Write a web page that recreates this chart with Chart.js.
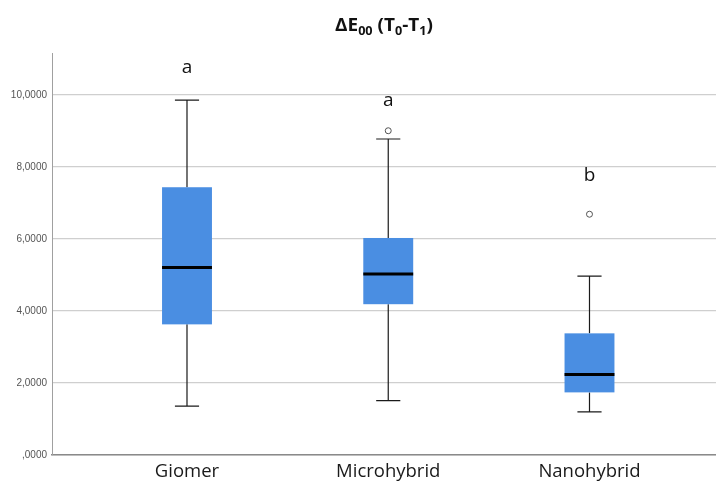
<!DOCTYPE html>
<html>
<head>
<meta charset="utf-8">
<script src="https://cdn.jsdelivr.net/npm/chart.js@4.4.1/dist/chart.umd.min.js"></script>
<style>
  html, body { margin: 0; padding: 0; background: #ffffff; overflow: hidden; }
  #wrap { width: 716px; height: 488px; position: relative; }
</style>
</head>
<body>
<div id="wrap"><canvas id="c"></canvas></div>
<script>
// ---- data ----
const categories = ["Giomer", "Microhybrid", "Nanohybrid"];
const whiskerLow = [1.36, 1.51, 1.20];
const q1 = [3.63, 4.19, 1.74];
const median = [5.21, 5.03, 2.24];
const q3 = [7.44, 6.03, 3.38];
const whiskerHigh = [9.86, 8.78, 4.97];
const outliers = [[], [9.01], [6.69]];
const groupLetters = ["a", "a", "b"];
const letterY = [10.75, 9.81, 7.73];
const yTicks = [0, 2, 4, 6, 8, 10];
const yTickLabels = [",0000", "2,0000", "4,0000", "6,0000", "8,0000", "10,0000"];

const outlierPoints = [];
outliers.forEach((arr, i) => arr.forEach(v => outlierPoints.push({ x: i + 1, y: v })));

const BOX_HALF = 0.124;
const CAP_HALF = 0.06;

const boxPlugin = {
  id: 'boxes',
  beforeDatasetsDraw(chart) {
    const ctx = chart.ctx, x = chart.scales.x, y = chart.scales.y;
    ctx.save();
    categories.forEach((c, i) => {
      const cx = x.getPixelForValue(i + 1);
      const l = x.getPixelForValue(i + 1 - BOX_HALF), r = x.getPixelForValue(i + 1 + BOX_HALF);
      const cl = x.getPixelForValue(i + 1 - CAP_HALF), cr = x.getPixelForValue(i + 1 + CAP_HALF);
      const yLo = y.getPixelForValue(whiskerLow[i]), yHi = y.getPixelForValue(whiskerHigh[i]);
      const y1 = y.getPixelForValue(q1[i]), y3 = y.getPixelForValue(q3[i]);
      const ym = y.getPixelForValue(median[i]);
      ctx.strokeStyle = '#1a1a1a';
      ctx.lineWidth = 1.2;
      ctx.beginPath();
      ctx.moveTo(cx, yHi); ctx.lineTo(cx, y3);
      ctx.moveTo(cx, y1); ctx.lineTo(cx, yLo);
      ctx.moveTo(cl, yHi); ctx.lineTo(cr, yHi);
      ctx.moveTo(cl, yLo); ctx.lineTo(cr, yLo);
      ctx.stroke();
      ctx.fillStyle = '#4a8ee2';
      ctx.fillRect(l, y3, r - l, y1 - y3);
      ctx.strokeStyle = '#000000';
      ctx.lineWidth = 3;
      ctx.beginPath();
      ctx.moveTo(l, ym); ctx.lineTo(r, ym);
      ctx.stroke();
    });
    ctx.fillStyle = '#111';
    ctx.font = '19px "Open Sans"';
    ctx.textAlign = 'center';
    ctx.textBaseline = 'middle';
    groupLetters.forEach((t, i) => {
      ctx.fillText(t, x.getPixelForValue(i + 1), y.getPixelForValue(letterY[i]) - 1);
    });
    ctx.restore();
  },
  afterDraw(chart) {
    const ctx = chart.ctx;
    ctx.save();
    ctx.fillStyle = '#111';
    ctx.textBaseline = 'alphabetic';
    ctx.textAlign = 'left';
    const big = 'bold 18px "Open Sans"', small = 'bold 12px "Open Sans"';
    const parts = [["ΔE", big, 0], ["00", small, 4], [" (T", big, 0], ["0", small, 4], ["-T", big, 0], ["1", small, 4], [")", big, 0]];
    let total = 0;
    parts.forEach(p => { ctx.font = p[1]; total += ctx.measureText(p[0]).width; });
    const a = chart.chartArea;
    const sx = 98 / total > 1 ? 98 / total : 1;
    const cxTitle = (a.left + a.right) / 2;
    ctx.translate(cxTitle, 0);
    ctx.scale(sx, 1);
    let px = -total / 2;
    const base = 31;
    parts.forEach(p => { ctx.font = p[1]; ctx.fillText(p[0], px, base + p[2]); px += ctx.measureText(p[0]).width; });
    ctx.restore();
  }
};

new Chart(document.getElementById('c'), {
  type: 'scatter',
  data: {
    datasets: [{
      data: outlierPoints,
      pointRadius: 3,
      pointBackgroundColor: '#ffffff',
      pointBorderColor: '#555555',
      pointBorderWidth: 1
    }]
  },
  options: {
    responsive: true,
    maintainAspectRatio: false,
    animation: false,
    layout: { autoPadding: false, padding: { top: 53, left: 0, right: 0, bottom: 0 } },
    plugins: { legend: { display: false }, tooltip: { enabled: false }, title: { display: false } },
    scales: {
      x: {
        type: 'linear',
        min: 0.3292,
        max: 3.6286,
        afterBuildTicks: s => { s.ticks = categories.map((c, i) => ({ value: i + 1 })); },
        afterFit: s => { s.height = 33; },
        grid: { display: false, drawTicks: false },
        border: { color: '#8a8a8a', width: 1.5 },
        ticks: {
          callback: (v) => categories[v - 1] || '',
          color: '#1a1a1a',
          font: { family: 'Open Sans', size: 18.5 },
          padding: 6,
          maxRotation: 0,
          autoSkip: false
        }
      },
      y: {
        min: 0,
        max: 11.17,
        afterBuildTicks: s => { s.ticks = yTicks.map(v => ({ value: v })); },
        afterFit: s => { s.width = 52; },
        grid: { color: '#cfcfcf', lineWidth: 1.3, drawTicks: false },
        border: { color: '#a0a0a0', width: 1 },
        ticks: {
          callback: (v) => yTickLabels[yTicks.indexOf(v)],
          color: '#555555',
          font: { family: 'Liberation Sans', size: 10 },
          padding: 5
        }
      }
    }
  },
  plugins: [boxPlugin]
});
</script>
</body>
</html>
